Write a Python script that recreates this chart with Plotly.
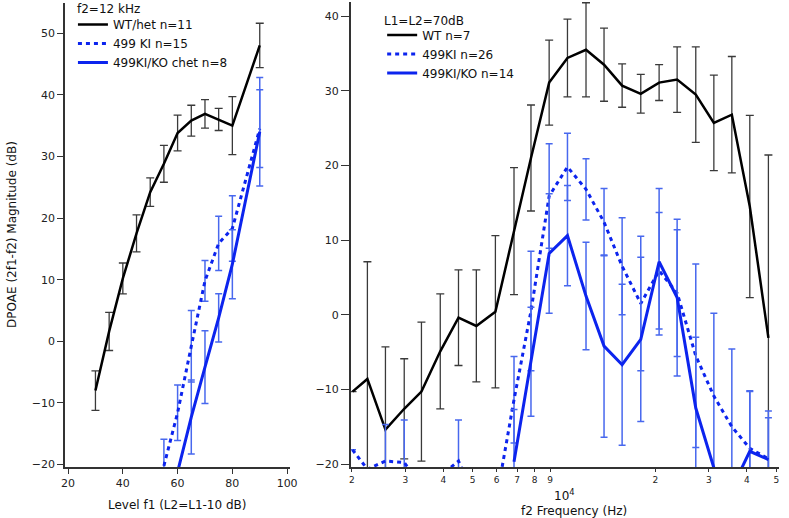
import plotly.graph_objects as go

# ---------------- Left panel data (f2 = 12 kHz, level series) ----------------
left_level_wt = [30, 35, 40, 45, 50, 55, 60, 65, 70, 75, 80, 90]
left_wt = [-8.0, 1.6, 10.2, 17.5, 24.2, 28.8, 33.8, 35.8, 36.9, 36.0, 35.0, 48.0]
left_wt_err = [3.2, 3.1, 2.5, 3.0, 2.3, 3.0, 2.9, 2.5, 2.3, 1.8, 4.7, 3.6]

left_level_ki = [55, 60, 65, 70, 75, 80, 90]
left_ki = [-20.2, -11.6, -0.8, 9.8, 15.9, 18.3, 34.5]
left_ki_err = [4.3, 4.5, 5.8, 3.3, 4.4, 5.3, 6.3]

left_level_chet = [60, 65, 70, 75, 80, 90]
left_chet = [-21.2, -12.3, -4.2, 3.8, 12.5, 34.0]
left_chet_err = [None, 6.0, 5.9, 3.9, 5.6, 8.8]

# ---------------- Right panel data (L1 = L2 = 70 dB, frequency series) -------
freq_hz = [2010, 2250, 2580, 2975, 3390, 3910, 4490, 5140, 5940, 6840, 7780,
           8930, 10260, 11810, 13540, 15530, 17890, 20560, 23570, 27150,
           31140, 35690, 40900, 47100]
wt_r = [-10.3, -8.6, -15.4, -12.6, -10.3, -4.9, -0.4, -1.5, 0.4, 11.2, 21.0,
        31.1, 34.4, 35.5, 33.5, 30.7, 29.6, 31.1, 31.5, 29.5, 25.7, 26.8, 14.5, -3.1]
wt_r_err = [None, 15.7, 11.1, 6.7, 9.3, 7.7, 6.4, 7.5, 10.2, 8.5, 7.1,
            5.7, 5.2, 6.3, 4.9, 2.9, 2.6, 2.4, 4.4, 6.4, 6.4, 7.8, 12.2, 24.5]

ki_r = [-18.1, -20.7, -19.6, -19.8, -23.0, -21.6, -19.6, -25.0, -25.5, -11.4, 0.5,
        15.9, 19.8, 16.8, 12.4, 6.5, 1.5, 5.9, 2.9, -5.5, -10.9, -15.0, -17.9, -19.3]
ki_r_err = [None, None, 4.9, 5.7, None, None, 5.5, None, None, 5.8, 8.0,
            7.0, 4.5, 4.1, 4.5, 6.5, 9.0, 7.8, 8.5, 12.3, 11.1, 10.4, 7.7, 6.4]

chet_r = [None, None, None, None, None, None, None, None, None, -19.7, -6.3,
          8.2, 10.6, 2.5, -4.2, -6.7, -3.3, 7.1, 2.3, -12.5, -20.5, -23.3, -18.3, -19.4]
chet_r_err = [None, None, None, None, None, None, None, None, None, 7.0, 7.3,
              8.0, 6.7, 7.2, 12.2, 10.8, 11.0, 9.8, 10.5, 9.5, None, None, 8.0, 5.6]

right_tick_vals = [2000, 3000, 4000, 5000, 6000, 7000, 8000, 9000,
                   20000, 30000, 40000, 50000]
right_tick_text = ["2", "3", "4", "5", "6", "7", "8", "9", "2", "3", "4", "5"]

# ---------------- styling ----------------
FONT = "DejaVu Sans"
BLACK = "#000000"
BLACK_ERR = "#3a3a3a"
BLUE = "#0c24ee"
BLUE_ERR = "#4868ee"
W, H = 789, 518
MT, MB = 2, 51
PH = H - MT - MB


def py(px):  # pixel row -> paper y
    return (H - MB - px) / PH


def err(vals, color, thick, half):
    return dict(type="data", array=vals, visible=True, color=color,
                thickness=thick, width=half)


fig = go.Figure()

# Left panel
fig.add_trace(go.Scatter(x=left_level_wt, y=left_wt, mode="lines",
                         name="WT/het n=11", line=dict(color=BLACK, width=2.5),
                         error_y=err(left_wt_err, BLACK_ERR, 1.3, 4),
                         xaxis="x", yaxis="y", legend="legend"))
fig.add_trace(go.Scatter(x=left_level_ki, y=left_ki, mode="lines",
                         name="499 KI n=15",
                         line=dict(color=BLUE, width=3, dash="4px,4px"),
                         error_y=err(left_ki_err, BLUE_ERR, 1.5, 3.5),
                         xaxis="x", yaxis="y", legend="legend"))
fig.add_trace(go.Scatter(x=left_level_chet, y=left_chet, mode="lines",
                         name="499KI/KO chet n=8",
                         line=dict(color=BLUE, width=3),
                         error_y=err(left_chet_err, BLUE_ERR, 1.5, 3.5),
                         xaxis="x", yaxis="y", legend="legend"))

# Right panel
fig.add_trace(go.Scatter(x=freq_hz, y=wt_r, mode="lines", name="WT n=7",
                         line=dict(color=BLACK, width=2.5),
                         error_y=err(wt_r_err, BLACK_ERR, 1.3, 4),
                         xaxis="x2", yaxis="y2", legend="legend2"))
fig.add_trace(go.Scatter(x=freq_hz, y=ki_r, mode="lines", name="499KI n=26",
                         line=dict(color=BLUE, width=3, dash="4px,4px"),
                         error_y=err(ki_r_err, BLUE_ERR, 1.5, 3.5),
                         xaxis="x2", yaxis="y2", legend="legend2"))
fig.add_trace(go.Scatter(x=freq_hz, y=chet_r, mode="lines", name="499KI/KO n=14",
                         line=dict(color=BLUE, width=3),
                         error_y=err(chet_r_err, BLUE_ERR, 1.5, 3.5),
                         xaxis="x2", yaxis="y2", legend="legend2"))

axis_common = dict(showgrid=False, zeroline=False, showline=True,
                   linecolor="#333333", linewidth=1.6, ticks="outside",
                   tickcolor="#333333", tickwidth=1.3)
tick_font = dict(family=FONT, size=11, color="#222222")

fig.update_layout(
    width=W, height=H,
    margin=dict(l=0, r=0, t=MT, b=MB),
    paper_bgcolor="white", plot_bgcolor="white",
    font=dict(family=FONT, size=12, color="#111111"),
    xaxis=dict(domain=[62 / W, 290 / W], range=[18.9, 100.9], anchor="y",
               tickvals=[20, 40, 60, 80, 100], ticklen=5, tickfont=tick_font,
               **axis_common),
    yaxis=dict(domain=[0, 0.998], range=[-20.4, 54.9], anchor="x",
               tickvals=[-20, -10, 0, 10, 20, 30, 40, 50], ticklen=6,
               tickfont=tick_font, **axis_common),
    xaxis2=dict(domain=[352 / W, 787 / W], type="log", range=[3.297, 4.708],
                anchor="y2", tickvals=right_tick_vals, ticktext=right_tick_text,
                ticklen=3, tickfont=dict(family=FONT, size=9, color="#222222"),
                **axis_common),
    xaxis3=dict(overlaying="x2", anchor="y2", type="log", range=[3.297, 4.708],
                tickvals=[10000], ticks="outside", ticklen=8, tickwidth=1.3,
                tickcolor="#333333", showticklabels=False, showline=False,
                showgrid=False, zeroline=False),
    yaxis2=dict(domain=[0, 1], range=[-20.4, 41.9], anchor="x2",
                tickvals=[-20, -10, 0, 10, 20, 30, 40], ticklen=8,
                tickfont=tick_font, **axis_common),
    legend=dict(x=70 / W, y=py(10), xanchor="left", yanchor="top",
                bgcolor="rgba(0,0,0,0)", borderwidth=0,
                font=dict(family=FONT, size=12, color="#111111"),
                itemwidth=30, tracegroupgap=0),
    legend2=dict(x=384 / W, y=py(20.5), xanchor="left", yanchor="top",
                 bgcolor="rgba(0,0,0,0)", borderwidth=0,
                 font=dict(family=FONT, size=12, color="#111111"),
                 itemwidth=30, tracegroupgap=0),
    showlegend=True,
)

annotations = [
    dict(text="f2=12 kHz", xref="paper", yref="paper", x=72 / W, y=py(8.5),
         showarrow=False, xanchor="left", yanchor="middle",
         font=dict(family=FONT, size=12, color="#111111")),
    dict(text="L1=L2=70dB", xref="paper", yref="paper", x=384 / W, y=py(20.5),
         showarrow=False, xanchor="left", yanchor="middle",
         font=dict(family=FONT, size=12, color="#111111")),
    dict(text="DPOAE (2f1-f2) Magnitude (dB)", textangle=-90,
         xref="paper", yref="paper", x=8 / W, y=py(234), showarrow=False,
         xanchor="center", yanchor="middle",
         font=dict(family=FONT, size=12, color="#111111")),
    dict(text="Level f1 (L2=L1-10 dB)", xref="paper", yref="paper",
         x=176 / W, y=py(505), showarrow=False, xanchor="center",
         yanchor="middle", font=dict(family=FONT, size=12, color="#111111")),
    dict(text="f2 Frequency (Hz)", xref="paper", yref="paper",
         x=579 / W, y=py(511), showarrow=False, xanchor="center",
         yanchor="middle", font=dict(family=FONT, size=12, color="#111111")),
    dict(text="10<sup>4</sup>", xref="x2", yref="paper", x=4, y=py(495),
         showarrow=False, xanchor="center", yanchor="middle",
         font=dict(family=FONT, size=12, color="#111111")),
]
fig.update_layout(annotations=annotations)

fig.write_html("out.html", config={"displayModeBar": False},
               post_script="document.body.style.margin='0px';")
